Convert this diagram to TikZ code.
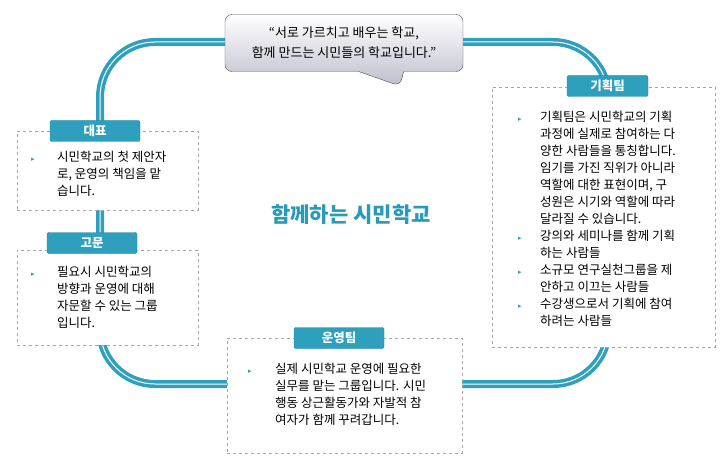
\documentclass[tikz,border=0pt]{standalone}
\usepackage{fontspec}
\setmainfont{Noto Sans CJK KR}
\newfontfamily\symf{DejaVu Sans}
\usetikzlibrary{shapes.callouts}
\definecolor{tealc}{RGB}{46,160,190}
\definecolor{titlec}{RGB}{40,155,185}
\tikzset{
  box/.style={draw=gray!70,dashed,fill=white,inner sep=0},
  tab/.style={fill=tealc,draw=tealc!80!black,rounded corners=2pt,text=white,font=\bfseries\fontsize{12.5}{14}\selectfont,minimum height=21pt},
  body/.style={anchor=north west,inner sep=0,align=left,font=\fontsize{12.5}{17}\selectfont},
  bul/.style={text=tealc,font=\symf\fontsize{7}{7}\selectfont,inner sep=0},
}
\begin{document}
\begin{tikzpicture}[x=1pt,y=-1pt]
\useasboundingbox (0,0) rectangle (726,468);
% loop
\draw[tealc,line width=3.5pt,double=white,double distance=1pt,rounded corners=55pt]
  (100,150) -- (100,42) -- (608,42) -- (608,384) -- (100,384) -- cycle;
% callout
\node[rectangle callout,callout absolute pointer={(400,86)},callout pointer width=45pt,draw=gray!60!black,rounded corners=7pt,
  top color=white,bottom color=blue!12!gray!45,minimum width=238pt,minimum height=57pt,
  align=center,font=\fontsize{13}{20}\selectfont] (quote) at (344,43)
  {``서로 가르치고 배우는 학교,\\ 함께 만드는 시민들의 학교입니다.''};
% title
\node[text=titlec,font=\bfseries\fontsize{21}{23}\selectfont] (title) at (351,215) {함께하는 시민학교};
% 대표
\node[box,minimum width=181pt,minimum height=79pt] (b1) at (107.5,170.5) {};
\node[tab,minimum width=90pt] (t1) at (95,131) {대표};
\node[bul] (u1) at (33,160) {▸};
\node[body] (x1) at (57,151) {시민학교의 첫 제안자\\로, 운영의 책임을 맡\\습니다.};
% 고문
\node[box,minimum width=181pt,minimum height=95pt] (b2) at (107.5,297.5) {};
\node[tab,minimum width=90pt] (t2) at (92,243) {고문};
\node[bul] (u2) at (33,275) {▸};
\node[body] (x2) at (57,266) {필요시 시민학교의\\방향과 운영에 대해\\자문할 수 있는 그룹\\입니다.};
% 기획팀
\node[box,minimum width=223pt,minimum height=260pt] (b3) at (603.5,217) {};
\node[tab,minimum width=81pt] (t3) at (607.5,86) {기획팀};
\node[bul] (u3a) at (520,120) {▸};
\node[body] (x3a) at (540,111) {기획팀은 시민학교의 기획\\과정에 실제로 참여하는 다\\양한 사람들을 통칭합니다.\\임기를 가진 직위가 아니라\\역할에 대한 표현이며, 구\\성원은 시기와 역할에 따라\\달라질 수 있습니다.};
\node[bul] (u3b) at (520,239) {▸};
\node[body] (x3b) at (540,230) {강의와 세미나를 함께 기획\\하는 사람들};
\node[bul] (u3c) at (520,273) {▸};
\node[body] (x3c) at (540,264) {소규모 연구실천그룹을 제\\안하고 이끄는 사람들};
\node[bul] (u3d) at (520,307) {▸};
\node[body] (x3d) at (540,298) {수강생으로서 기획에 참여\\하려는 사람들};
% 운영팀
\node[box,minimum width=235pt,minimum height=115pt] (b4) at (344.5,395.5) {};
\node[tab,minimum width=90pt] (t4) at (339,338) {운영팀};
\node[bul] (u4) at (250,372) {▸};
\node[body] (x4) at (275,363) {실제 시민학교 운영에 필요한\\실무를 맡는 그룹입니다.  시민\\행동 상근활동가와 자발적 참\\여자가 함께 꾸려갑니다.};
\end{tikzpicture}
\end{document}
